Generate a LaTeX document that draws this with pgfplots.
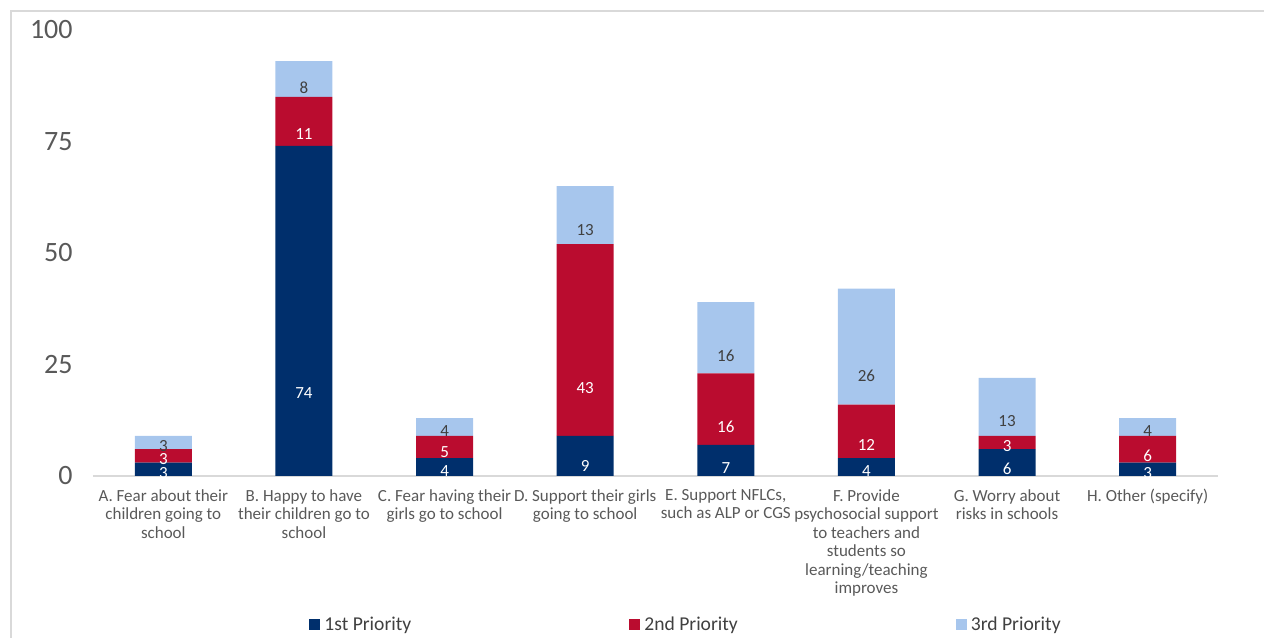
\documentclass[border=0pt]{standalone}
\usepackage{pgfplots}
\pgfplotsset{compat=1.18}
\usepackage{pgfplotstable}
\usepackage{fontspec}
\setmainfont{Carlito}

\definecolor{cBlue}{HTML}{002F6C}
\definecolor{cRed}{HTML}{BA0C2F}
\definecolor{cLight}{HTML}{A7C6ED}
\definecolor{cText}{HTML}{595959}
\definecolor{cDark}{HTML}{404040}
\definecolor{cGrid}{HTML}{D9D9D9}

% priorities per category (0 = A ... 7 = H)
\pgfplotstableread{
x p1 p2 p3
0 3 3 3
1 74 11 8
2 4 5 4
3 9 43 13
4 7 16 16
5 4 12 26
6 6 3 13
7 3 6 4
}\priorities

\begin{document}
\begin{tikzpicture}
% frame in pixel units of the reference (1px = 0.5pt)
\begin{scope}[x=0.5pt,y=-0.5pt,shift={(-46.5pt,238pt)}]
  \useasboundingbox (0,0) rectangle (1264,635);
  \draw[cGrid, line width=1pt] (11,11) rectangle (1300,680);
\end{scope}
\begin{axis}[
  at={(0,0)}, anchor=south west,
  scale only axis, width=562.5pt, height=223pt,
  ybar stacked, bar width=28.5pt,
  xmin=-0.5, xmax=7.5, ymin=0, ymax=100,
  enlargelimits=false, clip=false,
  axis lines*=left,
  y axis line style={draw=none},
  x axis line style={draw=cGrid, line width=1pt},
  major tick length=0pt,
  ytick={0,25,50,75,100},
  xtick={0,...,7},
  /pgf/number format/assume math mode=true,
  yticklabel style={font=\fontsize{14}{16}\selectfont, text=cText, inner sep=0pt, xshift=-10pt},
  xticklabel style={font=\fontsize{8.5}{9.25}\selectfont, text=cText, align=center, inner sep=0pt, yshift=-6.5pt},
  xticklabels={
    {A. Fear about their\\children going to\\school},
    {B. Happy to have\\their children go to\\school},
    {C. Fear having their\\girls go to school},
    {D. Support their girls\\going to school},
    {E. Support NFLCs,\\such as ALP or CGS},
    {F. Provide\\psychosocial support\\to teachers and\\students so\\learning/teaching\\improves},
    {G. Worry about\\risks in schools},
    {H. Other (specify)}},
  legend columns=3,
  legend cell align=left,
  legend style={at={(0.192,-0.334)}, anchor=west, draw=none, fill=none, inner sep=0pt,
    font=\fontsize{9.8}{11}\selectfont, text=cDark,
    /tikz/every even column/.append style={column sep=107pt}},
  legend image code/.code={\fill[#1] (0pt,-2.75pt) rectangle (5.5pt,2.75pt);},
  point meta=explicit,
  nodes near coords,
  every node near coord/.append style={anchor=center, inner sep=0pt, font=\fontsize{8.5}{10}\selectfont},
]
\addplot[fill=cBlue, draw=none,
  visualization depends on={\thisrow{p1}/2 \as \half},
  every node near coord/.append style={text=white, yshift={-\half*1.115pt}}]
  table[x=x, y=p1, meta=p1] {\priorities};
\addplot[fill=cRed, draw=none,
  visualization depends on={\thisrow{p2}/2 \as \half},
  every node near coord/.append style={text=white, yshift={-\half*1.115pt}}]
  table[x=x, y=p2, meta=p2] {\priorities};
\addplot[fill=cLight, draw=none,
  visualization depends on={\thisrow{p3}/2 \as \half},
  every node near coord/.append style={text=cDark, yshift={-\half*1.115pt}}]
  table[x=x, y=p3, meta=p3] {\priorities};
\legend{1st Priority, 2nd Priority, 3rd Priority}
\end{axis}
\end{tikzpicture}
\end{document}
